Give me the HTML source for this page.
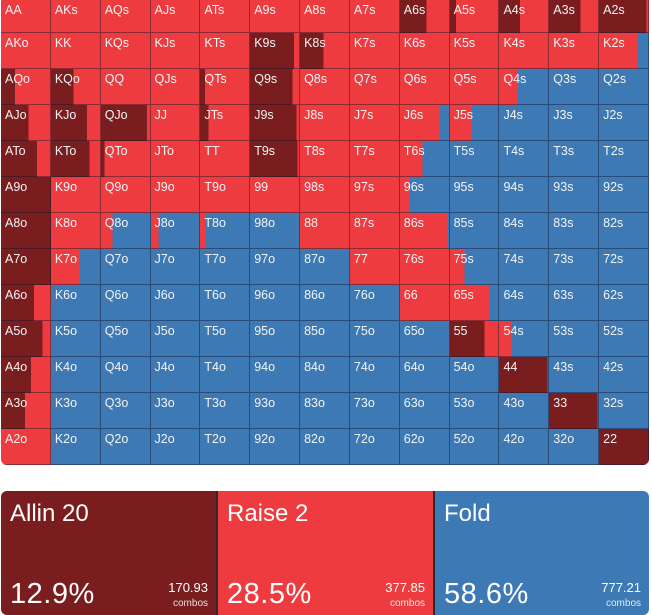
<!DOCTYPE html>
<html><head><meta charset="utf-8"><style>
body{margin:0;width:652px;height:615px;background:#fff;position:relative;overflow:hidden;font-family:"Liberation Sans",sans-serif}
#g{position:absolute;left:1px;top:-3px;width:648px;height:468px;display:grid;grid-template-columns:repeat(13,1fr);grid-template-rows:repeat(13,36px);border-radius:0 0 6px 6px;overflow:hidden}
#g div{--a:0;--r:1;background:linear-gradient(to right,#7a1d1f 0 calc(var(--a)*100%),#ee3b3f 0 calc(var(--r)*100%),#3d79b4 0);box-shadow:inset -1px -1px 0 rgba(20,20,40,.45);color:#f4f4f4;font-size:12.5px;padding:3px 0 0 4px;box-sizing:border-box;line-height:14px}
#g .f{--r:0}#g .x{--a:1}
.p{position:absolute;top:491px;height:124px;border-radius:6px;color:#fff}
.p .t{position:absolute;left:9px;top:9px;font-size:24px}
.p .v{position:absolute;left:9px;bottom:4px;font-size:29px;letter-spacing:.5px}
.p .c{position:absolute;right:8px;bottom:4px;text-align:right;font-size:13px;line-height:14px}
.p .c span{font-size:10px;opacity:.85}
</style></head><body>
<div id="g">
<div style="padding-top:6px">AA</div><div style="padding-top:6px">AKs</div><div style="padding-top:6px">AQs</div><div style="padding-top:6px">AJs</div><div style="padding-top:6px">ATs</div><div style="padding-top:6px">A9s</div><div style="padding-top:6px">A8s</div><div style="padding-top:6px">A7s</div><div style="--a:.53;padding-top:6px">A6s</div><div style="--a:.12;padding-top:6px">A5s</div><div style="--a:.42;padding-top:6px">A4s</div><div style="--a:.63;padding-top:6px">A3s</div><div style="--a:.95;padding-top:6px">A2s</div>
<div>AKo</div><div>KK</div><div>KQs</div><div>KJs</div><div>KTs</div><div style="--a:.88">K9s</div><div style="--a:.47">K8s</div><div>K7s</div><div>K6s</div><div>K5s</div><div>K4s</div><div>K3s</div><div style="--r:.78">K2s</div>
<div style="--a:.28">AQo</div><div style="--a:.45">KQo</div><div>QQ</div><div>QJs</div><div style="--a:.1">QTs</div><div style="--a:.85">Q9s</div><div>Q8s</div><div>Q7s</div><div>Q6s</div><div>Q5s</div><div style="--r:.38">Q4s</div><div class="f">Q3s</div><div class="f">Q2s</div>
<div style="--a:.55">AJo</div><div style="--a:.72">KJo</div><div style="--a:.92">QJo</div><div>JJ</div><div style="--a:.17">JTs</div><div style="--a:.93">J9s</div><div>J8s</div><div>J7s</div><div style="--r:.79">J6s</div><div style="--r:.45">J5s</div><div class="f">J4s</div><div class="f">J3s</div><div class="f">J2s</div>
<div style="--a:.72">ATo</div><div style="--a:.77">KTo</div><div style="--a:.07">QTo</div><div>JTo</div><div>TT</div><div style="--a:.95">T9s</div><div>T8s</div><div>T7s</div><div style="--r:.45">T6s</div><div class="f">T5s</div><div class="f">T4s</div><div class="f">T3s</div><div class="f">T2s</div>
<div class="x">A9o</div><div>K9o</div><div>Q9o</div><div>J9o</div><div>T9o</div><div>99</div><div>98s</div><div>97s</div><div style="--r:.2">96s</div><div class="f">95s</div><div class="f">94s</div><div class="f">93s</div><div class="f">92s</div>
<div class="x">A8o</div><div>K8o</div><div style="--r:.23">Q8o</div><div style="--r:.15">J8o</div><div style="--r:.12">T8o</div><div class="f">98o</div><div>88</div><div>87s</div><div style="--r:.95">86s</div><div class="f">85s</div><div class="f">84s</div><div class="f">83s</div><div class="f">82s</div>
<div class="x">A7o</div><div style="--r:.57">K7o</div><div class="f">Q7o</div><div class="f">J7o</div><div class="f">T7o</div><div class="f">97o</div><div class="f">87o</div><div>77</div><div>76s</div><div style="--r:.3">75s</div><div class="f">74s</div><div class="f">73s</div><div class="f">72s</div>
<div style="--a:.66">A6o</div><div class="f">K6o</div><div class="f">Q6o</div><div class="f">J6o</div><div class="f">T6o</div><div class="f">96o</div><div class="f">86o</div><div class="f">76o</div><div>66</div><div style="--r:.82">65s</div><div class="f">64s</div><div class="f">63s</div><div class="f">62s</div>
<div style="--a:.83">A5o</div><div class="f">K5o</div><div class="f">Q5o</div><div class="f">J5o</div><div class="f">T5o</div><div class="f">95o</div><div class="f">85o</div><div class="f">75o</div><div class="f">65o</div><div style="--a:.7">55</div><div style="--r:.25">54s</div><div class="f">53s</div><div class="f">52s</div>
<div style="--a:.6">A4o</div><div class="f">K4o</div><div class="f">Q4o</div><div class="f">J4o</div><div class="f">T4o</div><div class="f">94o</div><div class="f">84o</div><div class="f">74o</div><div class="f">64o</div><div class="f">54o</div><div style="--a:.97;--r:.97">44</div><div class="f">43s</div><div class="f">42s</div>
<div style="--a:.48">A3o</div><div class="f">K3o</div><div class="f">Q3o</div><div class="f">J3o</div><div class="f">T3o</div><div class="f">93o</div><div class="f">83o</div><div class="f">73o</div><div class="f">63o</div><div class="f">53o</div><div class="f">43o</div><div style="--a:.97;--r:.97">33</div><div class="f">32s</div>
<div>A2o</div><div class="f">K2o</div><div class="f">Q2o</div><div class="f">J2o</div><div class="f">T2o</div><div class="f">92o</div><div class="f">82o</div><div class="f">72o</div><div class="f">62o</div><div class="f">52o</div><div class="f">42o</div><div class="f">32o</div><div class="x">22</div>
</div>
<div style="position:absolute;left:216px;top:491px;width:220px;height:124px;background:#2a2a2a"></div>
<div class="p" style="left:1px;width:215px;background:#7a1d1f;border-radius:6px 0 0 6px"><div class="t">Allin 20</div><div class="v">12.9%</div><div class="c">170.93<br><span>combos</span></div></div>
<div class="p" style="left:218px;width:215px;background:#ee3b3f;border-radius:0"><div class="t">Raise 2</div><div class="v">28.5%</div><div class="c">377.85<br><span>combos</span></div></div>
<div class="p" style="left:435px;width:214px;background:#3d79b4;border-radius:0 6px 6px 0"><div class="t">Fold</div><div class="v">58.6%</div><div class="c">777.21<br><span>combos</span></div></div>
</body></html>
